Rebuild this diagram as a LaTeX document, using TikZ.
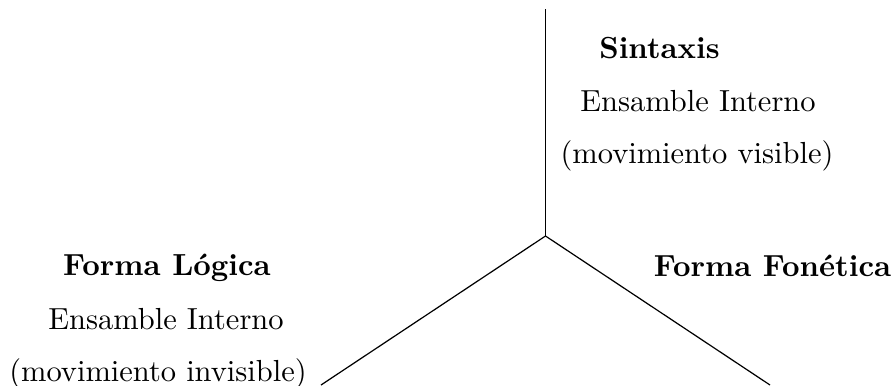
\documentclass[tikz,border=0pt]{standalone}
\begin{document}
\begin{tikzpicture}[x=0.328pt,y=-0.328pt,
  lbl/.style={anchor=base,inner sep=0pt,font=\normalsize},
  ttl/.style={lbl,font=\normalsize\bfseries},
  branch/.style={line width=0.4pt,black}]
\useasboundingbox (0,0) rectangle (896,385);
% connector points
\coordinate (J) at (545.5,236);
\coordinate (T) at (545.5,9);
\coordinate (L) at (321,385);
\coordinate (R) at (770,385);
\draw[branch] (J) -- (T);
\draw[branch] (J) -- (L);
\draw[branch] (J) -- (R);
% top group
\node[ttl] (sin) at (659.5,58) {Sintaxis};
\node[lbl] (ei1) at (698,111) {Ensamble Interno};
\node[lbl] (mv) at (697,163) {(movimiento visible)};
% left group
\node[ttl] (fl) at (167,275) {Forma Lógica};
\node[lbl] (ei2) at (166,329) {Ensamble Interno};
\node[lbl] (mi) at (158,381) {(movimiento invisible)};
% right
\node[ttl] (ff) at (772.5,276) {Forma Fonética};
\end{tikzpicture}
\end{document}
